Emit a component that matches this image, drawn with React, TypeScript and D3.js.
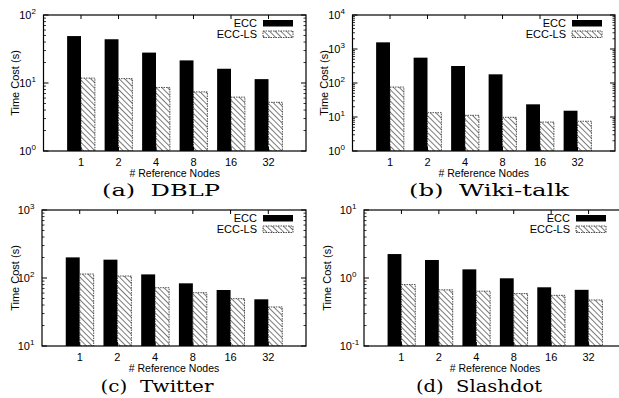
import * as d3 from "d3";

// x categories
const nodes = ["1", "2", "4", "8", "16", "32"];

// time cost in seconds
const dblpEcc = [49, 44, 28, 21.5, 16.2, 11.4];
const dblpLs = [11.8, 11.6, 8.6, 7.4, 6.2, 5.2];
const wikiEcc = [1570, 556, 316, 180, 23.6, 15.3];
const wikiLs = [76, 13.4, 11.2, 9.8, 7.1, 7.5];
const twitterEcc = [201, 186, 113, 83.5, 66.6, 48.6];
const twitterLs = [114.5, 107, 72, 60.8, 49.7, 37.5];
const slashdotEcc = [2.25, 1.84, 1.34, 0.99, 0.73, 0.67];
const slashdotLs = [0.8, 0.67, 0.64, 0.59, 0.556, 0.475];

const seriesNames = ["ECC", "ECC-LS"];

const panels = [
  { id: "a", caption: "(a)  DBLP", ecc: dblpEcc, ls: dblpLs, exp: [0, 2], x0: 43.5, x1: 306, top: 15, bottom: 151, labelX: 15, capX: 161, capY: 196, capW: 118 },
  { id: "b", caption: "(b)  Wiki-talk", ecc: wikiEcc, ls: wikiLs, exp: [0, 4], x0: 352.5, x1: 615, top: 15, bottom: 151, labelX: 324, capX: 489, capY: 196, capW: 160 },
  { id: "c", caption: "(c)  Twitter", ecc: twitterEcc, ls: twitterLs, exp: [1, 3], x0: 42, x1: 306, top: 210, bottom: 346, labelX: 15, capX: 157, capY: 392, capW: 113 },
  { id: "d", caption: "(d)  Slashdot", ecc: slashdotEcc, ls: slashdotLs, exp: [-1, 1], x0: 364, x1: 626, top: 210, bottom: 346, labelX: 327, capX: 479, capY: 392, capW: 126 },
];

const sans = { fontFamily: "Liberation Sans" };
const serif = { fontFamily: "DejaVu Serif" };

function Panel({ p }) {
  const x = d3.scaleLinear().domain([0, 7]).range([p.x0, p.x1]);
  const y = d3.scaleLog().domain([10 ** p.exp[0], 10 ** p.exp[1]]).range([p.bottom, p.top]);
  const bw = x(0.37) - x(0);

  const majors = d3.range(p.exp[0], p.exp[1] + 1);
  const minors = [];
  for (let e = p.exp[0]; e < p.exp[1]; e++) {
    for (let m = 2; m <= 9; m++) minors.push(m * 10 ** e);
  }

  const clipId = "clip-" + p.id;
  const legX = Math.min(p.x1, 619);

  return (
    <g>
      <clipPath id={clipId}>
        <rect x={p.x0} y={p.top} width={p.x1 - p.x0} height={p.bottom - p.top} />
      </clipPath>
      <g clipPath={`url(#${clipId})`}>
        {p.ecc.map((v, i) => (
          <rect key={"e" + i} x={x(i + 1) - bw} y={y(v)} width={bw} height={p.bottom - y(v)} fill="#000" />
        ))}
        {p.ls.map((v, i) => (
          <rect key={"l" + i} x={x(i + 1)} y={y(v)} width={bw} height={p.bottom - y(v)} fill="url(#hatch)" stroke="#222" strokeWidth={0.8} strokeDasharray="1.5 1" />
        ))}
      </g>
      {/* frame */}
      <rect x={p.x0} y={p.top} width={p.x1 - p.x0} height={p.bottom - p.top} fill="none" stroke="#000" strokeWidth={1.2} />
      {/* y ticks both sides */}
      {majors.map((e) => (
        <g key={"M" + e}>
          <line x1={p.x0} x2={p.x0 + 5} y1={y(10 ** e)} y2={y(10 ** e)} stroke="#000" />
          <line x1={p.x1} x2={p.x1 - 5} y1={y(10 ** e)} y2={y(10 ** e)} stroke="#000" />
          <text x={p.x0 - 12} y={y(10 ** e) + 4} textAnchor="end" style={sans} fontSize={11} fill="#000">
            10
          </text>
          <text x={p.x0 - 12} y={y(10 ** e) - 1.5} style={sans} fontSize={8} fill="#000">
            {e}
          </text>
        </g>
      ))}
      {minors.map((v) => (
        <g key={"m" + v}>
          <line x1={p.x0} x2={p.x0 + 2.5} y1={y(v)} y2={y(v)} stroke="#000" strokeWidth={0.8} />
          <line x1={p.x1} x2={p.x1 - 2.5} y1={y(v)} y2={y(v)} stroke="#000" strokeWidth={0.8} />
        </g>
      ))}
      {/* x ticks top & bottom */}
      {nodes.map((n, i) => (
        <g key={"x" + n}>
          <line x1={x(i + 1)} x2={x(i + 1)} y1={p.top} y2={p.top + 4} stroke="#000" />
          <line x1={x(i + 1)} x2={x(i + 1)} y1={p.bottom} y2={p.bottom - 4} stroke="#000" />
          <text x={x(i + 1)} y={p.bottom + 14.5} textAnchor="middle" style={sans} fontSize={11} fill="#000">
            {n}
          </text>
        </g>
      ))}
      <text x={(x(1) + x(6)) / 2} y={p.bottom + 25.5} textAnchor="middle" style={sans} fontSize={10.5} fill="#000">
        # Reference Nodes
      </text>
      <text transform={`translate(${p.labelX},${(p.top + p.bottom) / 2}) rotate(-90)`} dy="0.35em" textAnchor="middle" style={sans} fontSize={11} fill="#000">
        Time Cost (s)
      </text>
      {/* legend */}
      {seriesNames.map((s, k) => (
        <g key={s}>
          <text x={legX - 49} y={p.top + 8 + k * 11} dy="0.35em" textAnchor="end" style={sans} fontSize={11} fill="#000">
            {s}
          </text>
          <rect x={legX - 43} y={p.top + 5 + k * 11} width={30} height={6.5} fill={k === 0 ? "#000" : "url(#hatch)"} stroke={k === 0 ? "none" : "#222"} strokeWidth={0.8} strokeDasharray="1.5 1" />
        </g>
      ))}
      <text x={p.capX} y={p.capY} textAnchor="middle" textLength={p.capW} lengthAdjust="spacingAndGlyphs" style={{ ...serif, whiteSpace: "pre" }} fontSize={16.5} fill="#000">
        {p.caption}
      </text>
    </g>
  );
}

export default function App() {
  return (
    <svg width={619} height={398} style={{ position: "absolute", left: 0, top: 0, background: "#fff" }}>
      <defs>
        <pattern id="hatch" patternUnits="userSpaceOnUse" width={4} height={4} patternTransform="rotate(-45)">
          <rect width={4} height={4} fill="#fff" />
          <line x1={0} y1={0} x2={0} y2={4} stroke="#333" strokeWidth={1.3} />
        </pattern>
      </defs>
      {panels.map((p) => (
        <Panel key={p.id} p={p} />
      ))}
    </svg>
  );
}
